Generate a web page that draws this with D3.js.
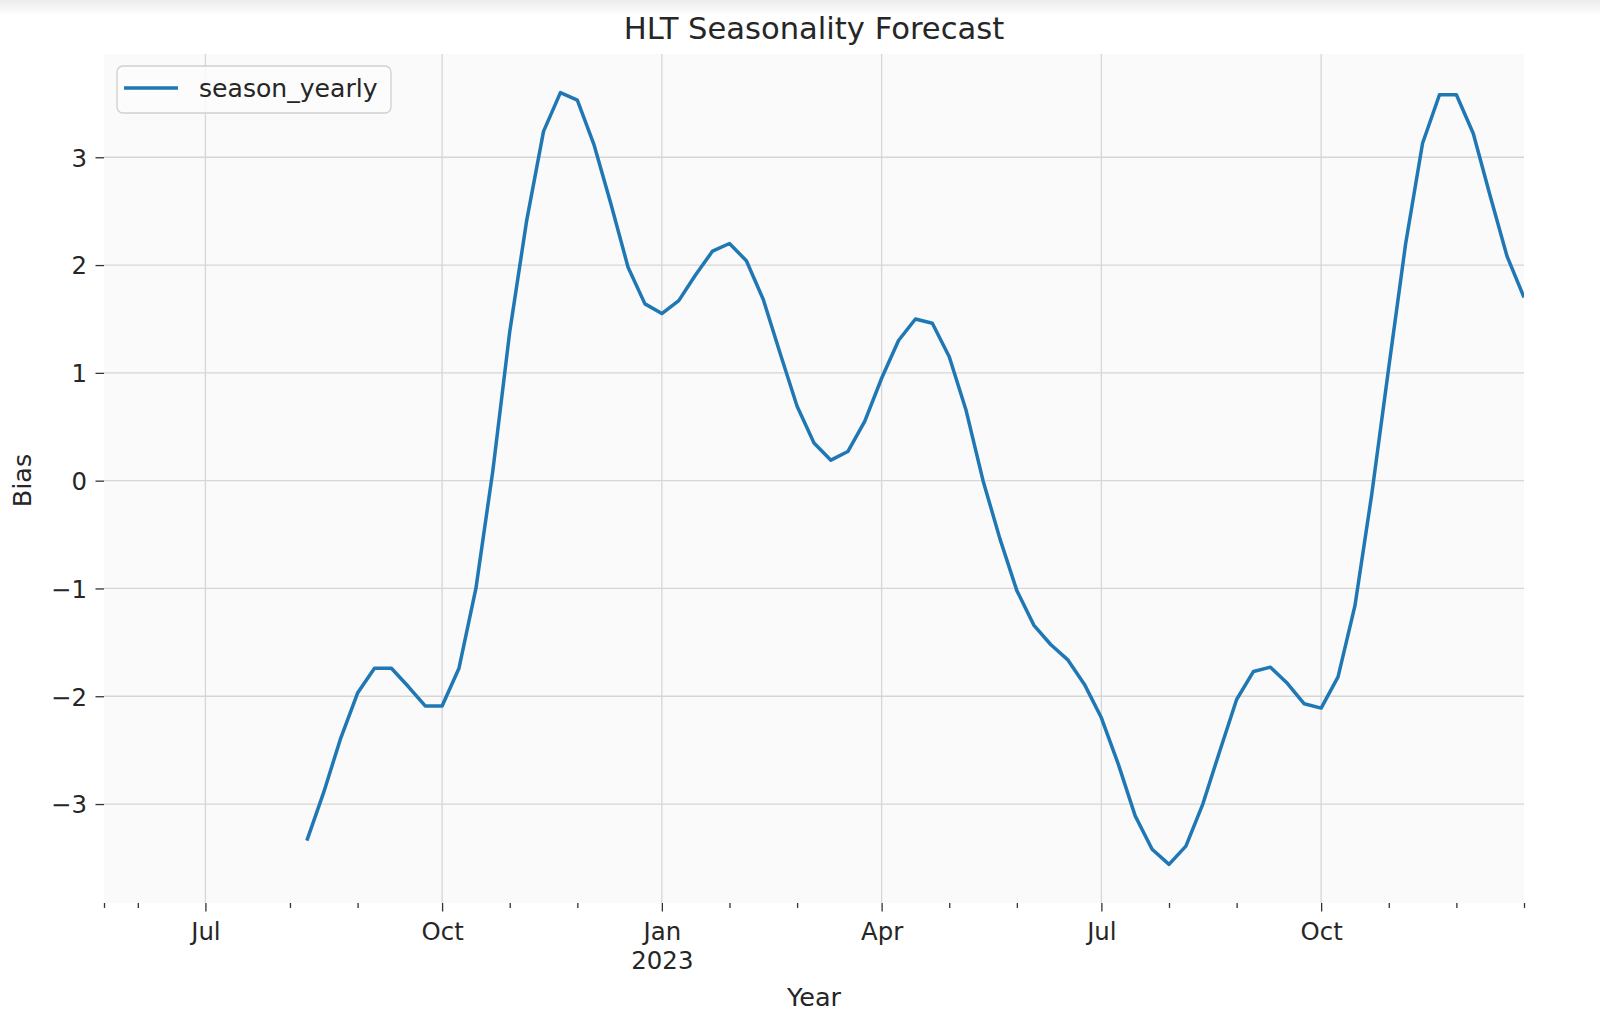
<!DOCTYPE html>
<html>
<head>
<meta charset="utf-8">
<script src="https://cdn.jsdelivr.net/npm/d3@7"></script>
<style>
  body { margin: 0; background: #fff; }
  svg { display: block; font-family: "DejaVu Sans", sans-serif; }
</style>
</head>
<body>
<div id="chart"></div>
<script>
// weekly values (weeks ending Friday), first point on 2022-08-12
var firstWeek = "2022-08-12";
var xStartDate = "2022-05-20";
var seriesName = "season_yearly";
var season_yearly = [
  -3.34, -2.89, -2.39, -1.97, -1.74, -1.74, -1.91, -2.09, -2.09, -1.74,
  -1.00, 0.09, 1.38, 2.41, 3.24, 3.60, 3.53, 3.11, 2.56, 1.98,
  1.64, 1.55, 1.67, 1.91, 2.13, 2.20, 2.04, 1.68, 1.18, 0.69,
  0.35, 0.19, 0.27, 0.55, 0.95, 1.30, 1.50, 1.46, 1.15, 0.65,
  0.00, -0.54, -1.02, -1.34, -1.52, -1.66, -1.89, -2.20, -2.63, -3.11,
  -3.42, -3.56, -3.39, -3.00, -2.51, -2.03, -1.77, -1.73, -1.88, -2.07,
  -2.11, -1.82, -1.16, -0.12, 1.05, 2.20, 3.13, 3.58, 3.58, 3.22,
  2.64, 2.08, 1.70
];
var yTicks = [-3, -2, -1, 0, 1, 2, 3];
var quarterMonths = [0, 3, 6, 9];
var titleText = "HLT Seasonality Forecast";
var xLabel = "Year";
var yLabel = "Bias";

var W = 1600, H = 1022;
var margin = {top: 54, right: 76, bottom: 119, left: 104},
    width = W - margin.left - margin.right,
    height = H - margin.top - margin.bottom;

var parse = d3.timeParse("%Y-%m-%d");
var start = parse(firstWeek);
var data = season_yearly.map(function(v, i) {
  return {date: d3.timeFriday.offset(start, i), value: v};
});
var xStart = parse(xStartDate);
var xEnd = data[data.length - 1].date;

var svg = d3.select("#chart").append("svg")
    .attr("width", W)
    .attr("height", H);

// faint shadow band at the top of the screenshot
var grad = svg.append("defs").append("linearGradient")
    .attr("id", "topfade").attr("x1", 0).attr("x2", 0).attr("y1", 0).attr("y2", 1);
grad.append("stop").attr("offset", "0%").attr("stop-color", "#ececec");
grad.append("stop").attr("offset", "100%").attr("stop-color", "#ffffff");
svg.append("rect").attr("width", W).attr("height", 16).attr("fill", "url(#topfade)");

svg.select("defs").append("clipPath").attr("id", "plotclip")
  .append("rect").attr("width", width).attr("height", height);

var g = svg.append("g")
    .attr("transform", "translate(" + margin.left + "," + margin.top + ")");

var x = d3.scaleTime()
    .domain([xStart, xEnd])
    .range([0, width]);

var ext = d3.extent(season_yearly);
var pad = (ext[1] - ext[0]) * 0.05;
var y = d3.scaleLinear()
    .domain([ext[0] - pad, ext[1] + pad])
    .range([height, 0]);

// month ticks snapped to the weekly period that holds the 1st
var months = d3.timeMonth.range(xStart, xEnd);
var majorTicks = months.filter(function(m) { return quarterMonths.indexOf(m.getMonth()) >= 0; })
    .map(function(m) { return d3.timeFriday.ceil(m); });
var minorTicks = months.filter(function(m) { return quarterMonths.indexOf(m.getMonth()) < 0; })
    .map(function(m) { return d3.timeFriday.ceil(m); });
minorTicks.push(xStart, xEnd);

g.append("rect")
    .attr("width", width)
    .attr("height", height)
    .attr("fill", "#fafafa");

// grid
g.append("g").selectAll("line")
  .data(yTicks).enter().append("line")
    .attr("x1", 0).attr("x2", width)
    .attr("y1", function(d) { return y(d); })
    .attr("y2", function(d) { return y(d); })
    .attr("stroke", "#d6d6d6").attr("stroke-width", 1.3);
g.append("g").selectAll("line")
  .data(majorTicks).enter().append("line")
    .attr("y1", 0).attr("y2", height)
    .attr("x1", function(d) { return x(d); })
    .attr("x2", function(d) { return x(d); })
    .attr("stroke", "#d6d6d6").attr("stroke-width", 1.3);

// x axis
var fmtMonth = d3.timeFormat("%b");
var xAxis = g.append("g")
    .attr("transform", "translate(0," + height + ")")
    .call(d3.axisBottom(x).tickValues(majorTicks).tickSize(8.5).tickPadding(11)
      .tickFormat(function(d) { return fmtMonth(d3.timeMonth.floor(d)); }));
xAxis.selectAll("text").each(function(d) {
  var m = d3.timeMonth.floor(d);
  if (m.getMonth() === 0) {
    var t = d3.select(this).text("");
    t.append("tspan").attr("x", 0).text(fmtMonth(m));
    t.append("tspan").attr("x", 0).attr("dy", "1.2em").text(m.getFullYear());
  }
});
var xMinor = g.append("g")
    .attr("transform", "translate(0," + height + ")")
    .call(d3.axisBottom(x).tickValues(minorTicks).tickSize(4.9).tickFormat(""));

// y axis
var yAxis = g.append("g")
    .call(d3.axisLeft(y).tickValues(yTicks).tickSize(8.5).tickPadding(8.5));

[xAxis, xMinor, yAxis].forEach(function(a) {
  a.select(".domain").remove();
  a.selectAll("line").attr("stroke", "#333").attr("stroke-width", 1.3);
  a.selectAll("text")
    .attr("fill", "#262626")
    .style("font-family", "DejaVu Sans, sans-serif")
    .style("font-size", "24.4px");
});
yAxis.selectAll("text").attr("dy", "0.36em");

// line
var line = d3.line()
    .x(function(d) { return x(d.date); })
    .y(function(d) { return y(d.value); });
g.append("path")
    .datum(data)
    .attr("clip-path", "url(#plotclip)")
    .attr("fill", "none")
    .attr("stroke", "#1f77b4")
    .attr("stroke-width", 3.5)
    .attr("stroke-linejoin", "round")
    .attr("d", line);

// legend
var leg = svg.append("g");
leg.append("rect")
    .attr("x", 117).attr("y", 66)
    .attr("width", 274).attr("height", 47)
    .attr("rx", 6)
    .attr("fill", "#fcfcfc").attr("fill-opacity", 0.85)
    .attr("stroke", "#d0d0d0").attr("stroke-width", 1.3);
leg.append("line")
    .attr("x1", 124).attr("x2", 178)
    .attr("y1", 88).attr("y2", 88)
    .attr("stroke", "#1f77b4").attr("stroke-width", 3.5);
leg.append("text")
    .attr("x", 199).attr("y", 97)
    .attr("fill", "#262626")
    .style("font-size", "25.1px")
    .text(seriesName);

// titles
svg.append("text")
    .attr("x", margin.left + width / 2).attr("y", 39)
    .attr("text-anchor", "middle")
    .attr("fill", "#262626")
    .style("font-size", "30.6px")
    .text(titleText);
svg.append("text")
    .attr("x", margin.left + width / 2).attr("y", 1006)
    .attr("text-anchor", "middle")
    .attr("fill", "#262626")
    .style("font-size", "25.5px")
    .text(xLabel);
svg.append("text")
    .attr("transform", "translate(31," + (margin.top + height / 2 + 2) + ")rotate(-90)")
    .attr("text-anchor", "middle")
    .attr("fill", "#262626")
    .style("font-size", "25.5px")
    .text(yLabel);
</script>
</body>
</html>
